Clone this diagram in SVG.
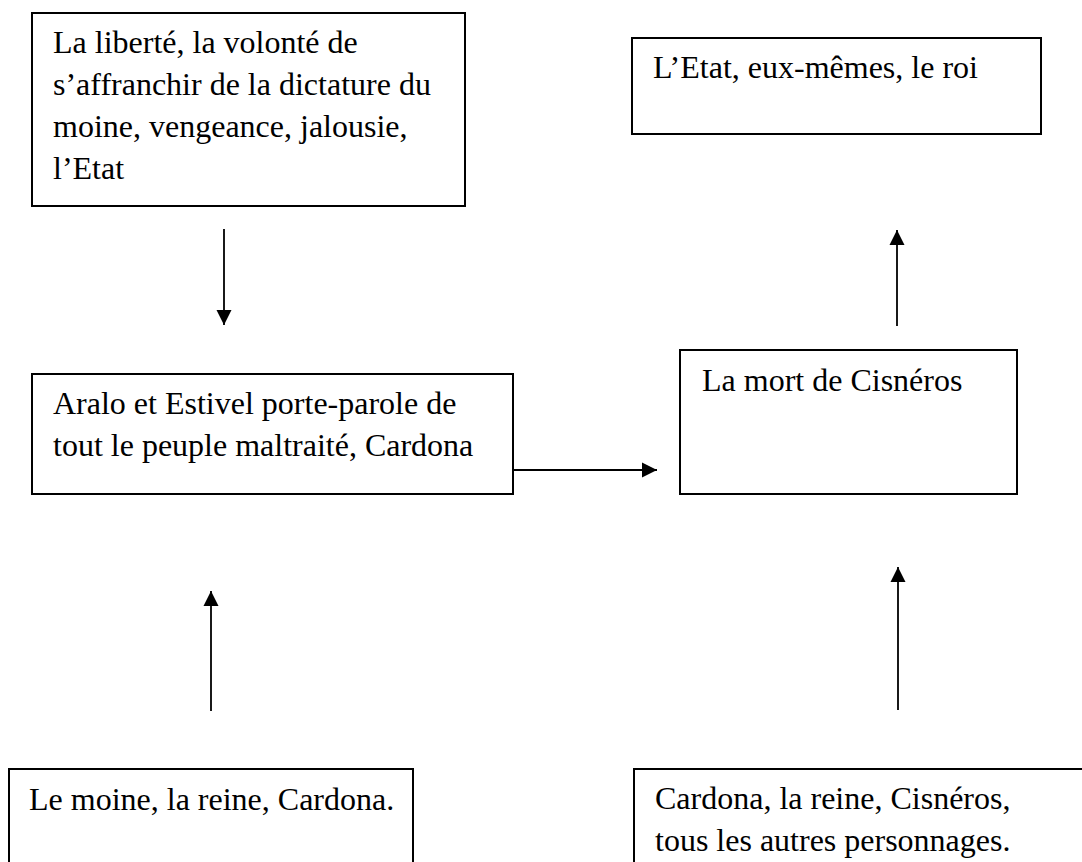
<svg xmlns="http://www.w3.org/2000/svg" width="1082" height="862" viewBox="0 0 1082 862">
  <style>
    .box { fill: #ffffff; stroke: #000000; stroke-width: 2; }
    .lbl { font-family: "Liberation Serif", "Times New Roman", serif; font-size: 32px; fill: #000000; }
    .conn { stroke: #000000; stroke-width: 1.8; fill: none; }
  </style>
  <defs>
    <marker id="arrow" markerUnits="userSpaceOnUse" markerWidth="16" markerHeight="16" viewBox="0 0 16 16" refX="15" refY="8" orient="auto">
      <polygon points="0,0.5 15,8 0,15.5" fill="#000000"/>
    </marker>
  </defs>
  <rect x="0" y="0" width="1082" height="862" fill="#ffffff"/>

  <g id="node-liberte">
    <rect class="box" x="32" y="13" width="433" height="193"/>
    <text class="lbl" x="53" y="53">La liberté, la volonté de</text>
    <text class="lbl" x="53" y="95">s’affranchir de la dictature du</text>
    <text class="lbl" x="53" y="137">moine, vengeance, jalousie,</text>
    <text class="lbl" x="53" y="179">l’Etat</text>
  </g>

  <g id="node-etat">
    <rect class="box" x="632" y="38" width="409" height="96"/>
    <text class="lbl" x="653" y="78">L’Etat, eux-mêmes, le roi</text>
  </g>

  <g id="node-aralo">
    <rect class="box" x="32" y="374" width="481" height="120"/>
    <text class="lbl" x="53" y="414">Aralo et Estivel porte-parole de</text>
    <text class="lbl" x="53" y="456">tout le peuple maltraité, Cardona</text>
  </g>

  <g id="node-mort">
    <rect class="box" x="680" y="350" width="337" height="144"/>
    <text class="lbl" x="702" y="391">La mort de Cisnéros</text>
  </g>

  <g id="node-moine">
    <rect class="box" x="9" y="769" width="404" height="140"/>
    <text class="lbl" x="29" y="810">Le moine, la reine, Cardona.</text>
  </g>

  <g id="node-cardona">
    <rect class="box" x="634" y="769" width="470" height="140"/>
    <text class="lbl" x="655" y="809">Cardona, la reine, Cisnéros,</text>
    <text class="lbl" x="655" y="851">tous les autres personnages.</text>
  </g>

  <g id="connectors">
    <line class="conn" x1="224" y1="229" x2="224" y2="325" marker-end="url(#arrow)"/>
    <line class="conn" x1="897" y1="326" x2="897" y2="230" marker-end="url(#arrow)"/>
    <line class="conn" x1="513" y1="470" x2="657" y2="470" marker-end="url(#arrow)"/>
    <line class="conn" x1="211" y1="711" x2="211" y2="591" marker-end="url(#arrow)"/>
    <line class="conn" x1="898" y1="710" x2="898" y2="567" marker-end="url(#arrow)"/>
  </g>
</svg>
